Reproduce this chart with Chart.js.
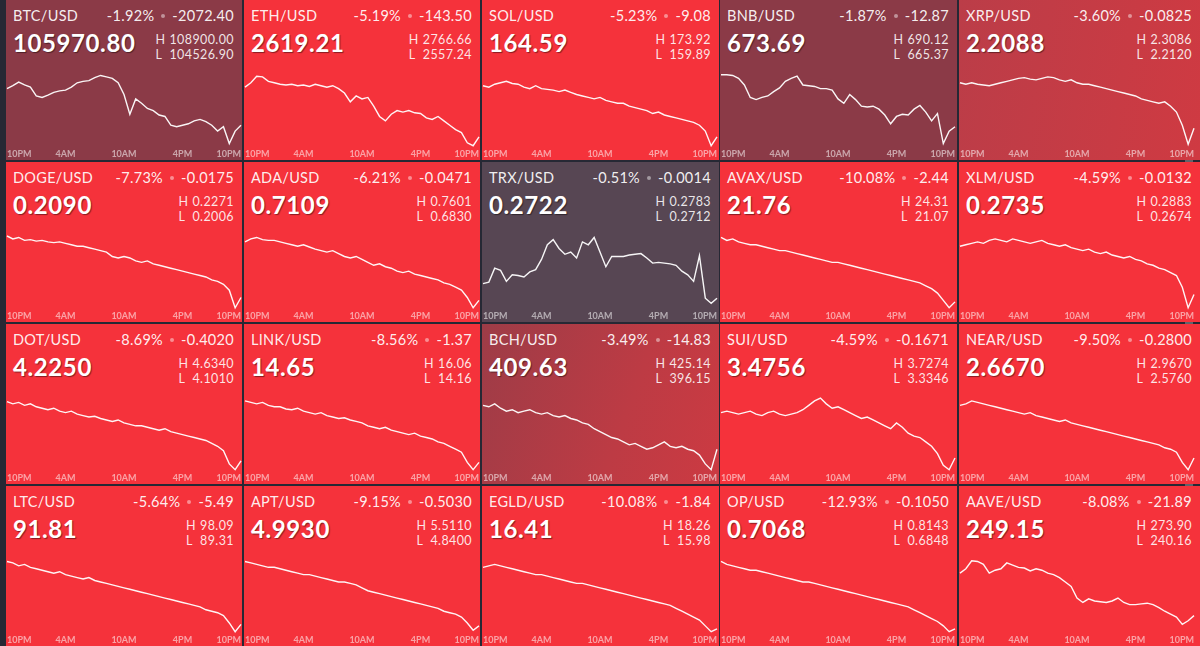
<!DOCTYPE html>
<html>
<head>
<meta charset="utf-8">
<script src="https://cdn.jsdelivr.net/npm/chart.js@4"></script>
<style>
  html,body{margin:0;padding:0;}
  body{width:1200px;height:646px;background:#262834;position:relative;overflow:hidden;font-family:Lato,"Noto Sans",sans-serif;}
  .tile{position:absolute;overflow:hidden;}
  .sym{position:absolute;left:7px;top:9px;font-size:14.5px;line-height:1;color:rgba(255,255,255,0.93);letter-spacing:0.3px;white-space:nowrap;}
  .chg{position:absolute;right:8px;top:9px;font-size:14.5px;line-height:1;color:rgba(255,255,255,0.93);letter-spacing:0.3px;white-space:nowrap;}
  .dot{display:inline-block;width:4px;height:4px;border-radius:2px;background:rgba(255,255,255,0.45);vertical-align:middle;margin:0 7px 0 7px;position:relative;top:-1px;}
  .price{position:absolute;left:7px;top:31px;font-size:24px;font-weight:bold;line-height:1;color:#fff;letter-spacing:0.6px;text-shadow:1px 1px 1px rgba(0,0,0,0.45);white-space:nowrap;}
  .hl{position:absolute;right:8px;top:31.5px;display:grid;grid-template-columns:auto auto;column-gap:4px;font-size:12.5px;line-height:15.5px;color:rgba(255,255,255,0.88);letter-spacing:0.4px;font-variant-numeric:tabular-nums;}
  .hl .v{text-align:right;}
  canvas{position:absolute;left:0;top:60px;}
  #strip{position:absolute;left:1185px;top:0;width:8px;height:646px;background:rgba(255,255,255,0.28);}
</style>
</head>
<body>
<div id="strip"></div>
<script>
// ---- data ----
const symbols = ['BTC/USD','ETH/USD','SOL/USD','BNB/USD','XRP/USD',
                 'DOGE/USD','ADA/USD','TRX/USD','AVAX/USD','XLM/USD',
                 'DOT/USD','LINK/USD','BCH/USD','SUI/USD','NEAR/USD',
                 'LTC/USD','APT/USD','EGLD/USD','OP/USD','AAVE/USD'];
const changePct = ['-1.92%','-5.19%','-5.23%','-1.87%','-3.60%',
                   '-7.73%','-6.21%','-0.51%','-10.08%','-4.59%',
                   '-8.69%','-8.56%','-3.49%','-4.59%','-9.50%',
                   '-5.64%','-9.15%','-10.08%','-12.93%','-8.08%'];
const changeAbs = ['-2072.40','-143.50','-9.08','-12.87','-0.0825',
                   '-0.0175','-0.0471','-0.0014','-2.44','-0.0132',
                   '-0.4020','-1.37','-14.83','-0.1671','-0.2800',
                   '-5.49','-0.5030','-1.84','-0.1050','-21.89'];
const prices = ['105970.80','2619.21','164.59','673.69','2.2088',
                '0.2090','0.7109','0.2722','21.76','0.2735',
                '4.2250','14.65','409.63','3.4756','2.6670',
                '91.81','4.9930','16.41','0.7068','249.15'];
const highs = ['108900.00','2766.66','173.92','690.12','2.3086',
               '0.2271','0.7601','0.2783','24.31','0.2883',
               '4.6340','16.06','425.14','3.7274','2.9670',
               '98.09','5.5110','18.26','0.8143','273.90'];
const lows = ['104526.90','2557.24','159.89','665.37','2.2120',
              '0.2006','0.6830','0.2712','21.07','0.2674',
              '4.1010','14.16','396.15','3.3346','2.5760',
              '89.31','4.8400','15.98','0.6848','240.16'];
const tickLabels = ['10PM','4AM','10AM','4PM','10PM'];
const tickHours = [0, 6, 12, 18, 24];

// 24h sparklines, position within the day's range (0 = day low, 100 = day high)
const btcSeries  = [80,84,89,85,82,70,68,71,75,77,78,82,88,90,91,95,98,96,94,88,72,45,66,60,53,50,44,42,30,28,30,32,36,38,35,30,22,28,5,22,30];
const ethSeries  = [82,88,97,96,90,88,86,85,86,84,85,83,86,84,82,84,80,74,62,70,66,68,56,42,36,45,50,48,50,47,46,40,38,42,36,30,24,20,6,2,14];
const solSeries  = [84,82,86,88,90,87,86,82,80,84,80,79,78,76,78,75,72,70,68,66,68,64,62,60,60,56,54,52,50,46,48,44,42,40,38,36,34,30,22,2,14];
const bnbSeries  = [99,99,98,94,85,68,65,68,70,76,81,90,94,97,85,84,83,80,80,78,66,60,72,65,56,55,56,52,44,32,42,45,44,52,57,48,36,46,5,22,28];
const xrpSeries  = [88,86,88,86,85,84,86,88,90,92,94,95,93,92,94,96,95,92,90,92,88,86,86,84,82,80,78,76,74,72,70,66,64,62,60,62,56,48,30,4,26];
const dogeSeries = [100,96,98,94,95,93,94,92,91,92,90,88,86,86,84,82,80,78,72,70,72,70,66,64,66,62,60,58,56,54,52,50,48,46,44,40,38,34,26,2,16];
const adaSeries  = [92,96,98,95,94,94,92,90,88,86,88,85,82,80,78,80,76,72,70,72,68,64,60,62,58,56,52,50,52,48,46,44,42,40,36,34,30,26,16,2,12];
const trxSeries  = [35,37,56,53,38,47,46,44,51,54,68,88,95,83,75,78,70,92,88,98,78,58,72,72,72,74,75,76,70,63,64,63,62,60,52,47,38,73,15,8,15];
const avaxSeries = [98,94,96,92,90,88,88,86,84,82,80,80,78,76,74,72,70,68,66,64,64,62,60,58,56,54,52,50,48,46,44,42,40,38,36,32,28,22,12,2,10];
const xlmSeries  = [86,88,90,92,90,94,96,94,92,96,94,92,90,92,94,90,88,86,88,84,82,80,82,78,76,78,74,72,70,72,68,66,62,60,56,54,50,46,30,2,20];
const dotSeries  = [95,92,94,90,92,88,86,84,86,82,80,82,78,76,74,75,72,70,68,70,66,64,62,62,60,58,56,58,54,52,50,48,46,44,42,38,34,28,10,2,14];
const linkSeries = [96,94,92,94,90,88,88,85,84,86,82,80,78,80,76,74,72,73,70,68,66,62,60,58,60,56,54,52,50,52,48,46,44,40,38,34,30,26,12,2,12];
const bchSeries  = [90,88,92,86,82,84,80,82,84,80,78,80,76,74,76,72,70,66,64,58,54,50,46,44,40,36,38,34,30,32,36,40,34,32,34,30,28,22,10,2,30];
const suiSeries  = [80,82,80,78,80,82,78,76,80,82,78,76,78,80,84,90,96,100,92,86,88,84,80,76,72,74,70,66,62,58,66,60,52,48,46,40,34,24,8,2,18];
const nearSeries = [90,92,96,94,92,90,88,86,84,82,80,78,80,76,74,72,70,68,70,66,64,62,60,58,56,54,52,50,48,46,44,42,40,38,36,32,30,26,12,2,18];
const ltcSeries  = [98,96,92,94,90,88,86,84,82,84,80,78,76,74,76,72,70,68,66,64,62,60,58,56,54,52,50,48,46,44,42,40,38,36,32,30,28,24,14,2,12];
const aptSeries  = [98,96,94,92,90,90,88,86,84,82,80,80,78,76,74,72,70,70,68,66,62,58,56,54,52,50,48,46,44,42,40,38,36,34,30,28,26,22,14,4,10];
const egldSeries = [90,92,94,92,90,88,86,84,82,80,80,78,76,74,72,70,68,68,66,64,62,60,58,56,54,52,50,48,46,44,42,40,38,34,30,26,22,18,10,2,6];
const opSeries   = [98,94,92,90,88,86,86,84,82,80,78,76,74,72,70,70,68,66,64,62,60,58,56,54,52,50,48,46,44,42,40,38,36,32,28,24,20,16,10,2,6];
const aaveSeries = [82,88,99,98,94,82,86,88,96,93,90,89,85,88,86,82,80,76,70,64,48,42,47,44,43,42,44,48,42,39,39,40,41,39,35,30,26,22,12,17,24];

const allSeries = [btcSeries,ethSeries,solSeries,bnbSeries,xrpSeries,
                   dogeSeries,adaSeries,trxSeries,avaxSeries,xlmSeries,
                   dotSeries,linkSeries,bchSeries,suiSeries,nearSeries,
                   ltcSeries,aptSeries,egldSeries,opSeries,aaveSeries];

// ---- layout / styling ----
const colX = [6, 244, 482, 720, 959];
const colW = [236, 236, 237, 237, 241];
const rowY = [0, 162, 324, 486];
const rowH = [160, 160, 160, 160];
const RED = '#f5323b';
const tileBg = {
  'BTC/USD': '#8b3a47',
  'BNB/USD': '#8b3a47',
  'XRP/USD': 'linear-gradient(100deg,#bb3d48,#cf3a42)',
  'TRX/USD': '#574653',
  'BCH/USD': 'linear-gradient(110deg,#9d3c47 0%,#bd3b44 60%,#cc3a42 100%)'
};

symbols.forEach((sym, k) => {
  const r = Math.floor(k / 5), c = k % 5;
  const tile = document.createElement('div');
  tile.className = 'tile';
  tile.style.left = colX[c] + 'px';
  tile.style.top = rowY[r] + 'px';
  tile.style.width = colW[c] + 'px';
  tile.style.height = rowH[r] + 'px';
  tile.style.background = tileBg[sym] || RED;
  tile.innerHTML =
    '<div class="sym">' + sym + '</div>' +
    '<div class="chg">' + changePct[k] + '<span class="dot"></span>' + changeAbs[k] + '</div>' +
    '<div class="price">' + prices[k] + '</div>' +
    '<div class="hl"><span>H</span><span class="v">' + highs[k] + '</span><span>L</span><span class="v">' + lows[k] + '</span></div>';
  const cw = 236, ch = rowH[r] - 60;
  const cv = document.createElement('canvas');
  cv.width = cw; cv.height = ch;
  cv.style.width = cw + 'px'; cv.style.height = ch + 'px';
  tile.appendChild(cv);
  document.body.appendChild(tile);

  const s = allSeries[k];
  new Chart(cv, {
    type: 'line',
    data: {
      datasets: [{
        data: s.map((v, i) => ({ x: i * 24 / (s.length - 1), y: v })),
        borderColor: 'rgba(255,255,255,0.95)',
        borderWidth: 1.4,
        pointRadius: 0,
        tension: 0,
        fill: false,
        clip: 4
      }]
    },
    options: {
      responsive: false,
      animation: false,
      events: [],
      layout: { padding: { top: 14, left: 0, right: 0, bottom: 0 } },
      plugins: { legend: { display: false }, tooltip: { enabled: false } },
      scales: {
        x: {
          type: 'linear', min: 0, max: 24,
          afterBuildTicks: (sc) => { sc.ticks = tickHours.map(v => ({ value: v })); },
          ticks: {
            align: 'inner', autoSkip: false, maxRotation: 0, padding: 1,
            color: 'rgba(255,255,255,0.55)',
            font: { size: 9, weight: 'bold', family: 'Lato' },
            callback: (v, i) => tickLabels[i]
          },
          grid: { display: false, drawTicks: false },
          border: { display: false }
        },
        y: { display: false, min: 0, max: 100 }
      }
    }
  });
});
</script>
</body>
</html>
